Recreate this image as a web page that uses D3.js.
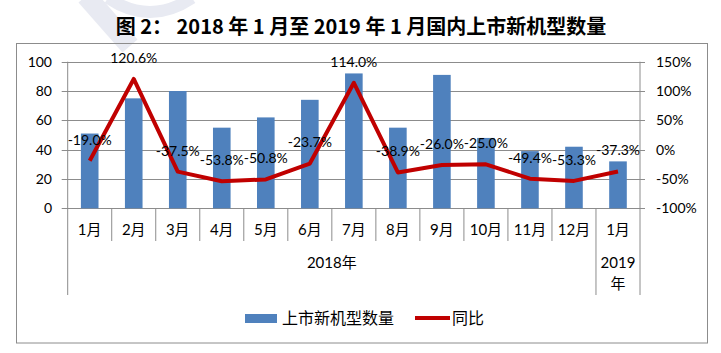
<!DOCTYPE html>
<html>
<head>
<meta charset="utf-8">
<script src="https://cdn.jsdelivr.net/npm/d3@7"></script>
<style>
  body { margin: 0; background: #fff; }
  svg text { font-family: Lato, "Noto Sans CJK SC", sans-serif; fill: #000; }
</style>
</head>
<body>
<svg id="chart" width="721" height="353"></svg>
<script>
// values
const months = ['1月', '2月', '3月', '4月', '5月', '6月', '7月', '8月', '9月', '10月', '11月', '12月', '1月'];
const newModels = [51, 75, 80, 55, 62, 74, 92, 55, 91, 48, 39, 42, 32];
const yoy = [-19.0, 120.6, -37.5, -53.8, -50.8, -23.7, 114.0, -38.9, -26.0, -25.0, -49.4, -53.3, -37.3];
const leftTicks = [0, 20, 40, 60, 80, 100];
const rightTicks = [-100, -50, 0, 50, 100, 150];
const years = [['2018年'], ['2019', '年']];
const yearSpans = [[0, 12], [12, 13]];

const svg = d3.select('#chart');
const plotL = 67.7, plotR = 640, plotT = 61.7, plotB = 208.3;
const grid = '#8c8c8c';

// faint watermark in the top left corner
const wm = svg.append('g').attr('fill', 'none').attr('stroke', '#e8eaf2');
wm.append('path').attr('d', 'M86,-4 L130,46').attr('stroke-width', 20);
wm.append('path').attr('d', 'M108,-2 Q150,26 192,-2').attr('stroke-width', 12);

// title
svg.append('text')
  .attr('x', 361).attr('y', 34)
  .attr('text-anchor', 'middle')
  .style('font-family', '"Noto Sans CJK SC", sans-serif')
  .style('font-weight', 'bold')
  .style('font-size', '20px')
  .text('图 2： 2018 年 1 月至 2019 年 1 月国内上市新机型数量');

// outer frame
svg.append('rect')
  .attr('x', 16.5).attr('y', 43.5).attr('width', 691).attr('height', 299.5)
  .attr('fill', 'none').attr('stroke', grid);

const x = d3.scaleBand()
  .domain(d3.range(months.length))
  .range([plotL, plotR])
  .paddingInner(0.6).paddingOuter(0.3);
const step = x.step();
const cx = i => x(i) + x.bandwidth() / 2;

const y = d3.scaleLinear().domain([0, 100]).range([plotB, plotT]);
const y2 = d3.scaleLinear().domain([-100, 150]).range([plotB, plotT]);

// gridlines
svg.append('g').selectAll('line')
  .data(leftTicks)
  .join('line')
  .attr('x1', plotL - 6).attr('x2', plotR + 5)
  .attr('y1', d => Math.round(y(d)) + 0.5).attr('y2', d => Math.round(y(d)) + 0.5)
  .attr('stroke', grid);

// left axis
svg.append('line')
  .attr('x1', plotL).attr('x2', plotL).attr('y1', plotT).attr('y2', 295)
  .attr('stroke', grid);
svg.append('g').selectAll('text')
  .data(leftTicks)
  .join('text')
  .attr('x', 52).attr('y', d => y(d)).attr('dy', '0.35em')
  .attr('text-anchor', 'end')
  .style('font-size', '14px')
  .text(d => d);

// right axis
svg.append('line')
  .attr('x1', plotR).attr('x2', plotR).attr('y1', plotT).attr('y2', 295)
  .attr('stroke', grid);
svg.append('g').selectAll('text')
  .data(rightTicks)
  .join('text')
  .attr('x', 656).attr('y', d => y2(d)).attr('dy', '0.35em')
  .style('font-size', '14px')
  .text(d => d + '%');

// category separators
svg.append('g').selectAll('line')
  .data(d3.range(1, months.length))
  .join('line')
  .attr('x1', i => plotL + i * step).attr('x2', i => plotL + i * step)
  .attr('y1', plotB).attr('y2', i => i === 12 ? 295 : 241)
  .attr('stroke', grid);

svg.append('g').selectAll('text')
  .data(months)
  .join('text')
  .attr('x', (d, i) => cx(i)).attr('y', 230).attr('dy', '0.35em')
  .attr('text-anchor', 'middle')
  .style('font-size', '15px')
  .text(d => d);

// year labels
yearSpans.forEach((s, k) => {
  const t = svg.append('text')
    .attr('x', plotL + (s[0] + s[1]) / 2 * step)
    .attr('y', 263)
    .attr('text-anchor', 'middle')
    .style('font-size', '15px');
  years[k].forEach((w, j) => {
    t.append('tspan')
      .attr('x', plotL + (s[0] + s[1]) / 2 * step)
      .attr('dy', j === 0 ? '0.35em' : '1.35em')
      .text(w);
  });
});

// bars
svg.append('g').selectAll('rect')
  .data(newModels)
  .join('rect')
  .attr('x', (d, i) => x(i)).attr('width', x.bandwidth())
  .attr('y', d => y(d)).attr('height', d => plotB - y(d))
  .attr('fill', '#4f81bd');

// yoy line
svg.append('path')
  .datum(yoy)
  .attr('fill', 'none')
  .attr('stroke', '#c00000')
  .attr('stroke-width', 4)
  .attr('stroke-linejoin', 'round')
  .attr('d', d3.line().x((d, i) => cx(i)).y(d => y2(d)));

svg.append('g').selectAll('text')
  .data(yoy)
  .join('text')
  .attr('x', (d, i) => cx(i)).attr('y', d => y2(d) - 21).attr('dy', '0.35em')
  .attr('text-anchor', 'middle')
  .style('font-size', '14px')
  .text(d => d.toFixed(1) + '%');

// legend
const lg = svg.append('g');
lg.append('rect').attr('x', 245).attr('y', 314).attr('width', 32).attr('height', 9).attr('fill', '#4f81bd');
lg.append('text').attr('x', 282).attr('y', 318).attr('dy', '0.35em')
  .style('font-size', '16px').text('上市新机型数量');
lg.append('line').attr('x1', 415).attr('x2', 450).attr('y1', 318).attr('y2', 318)
  .attr('stroke', '#c00000').attr('stroke-width', 4);
lg.append('text').attr('x', 452).attr('y', 318).attr('dy', '0.35em')
  .style('font-size', '16px').text('同比');
</script>
</body>
</html>
